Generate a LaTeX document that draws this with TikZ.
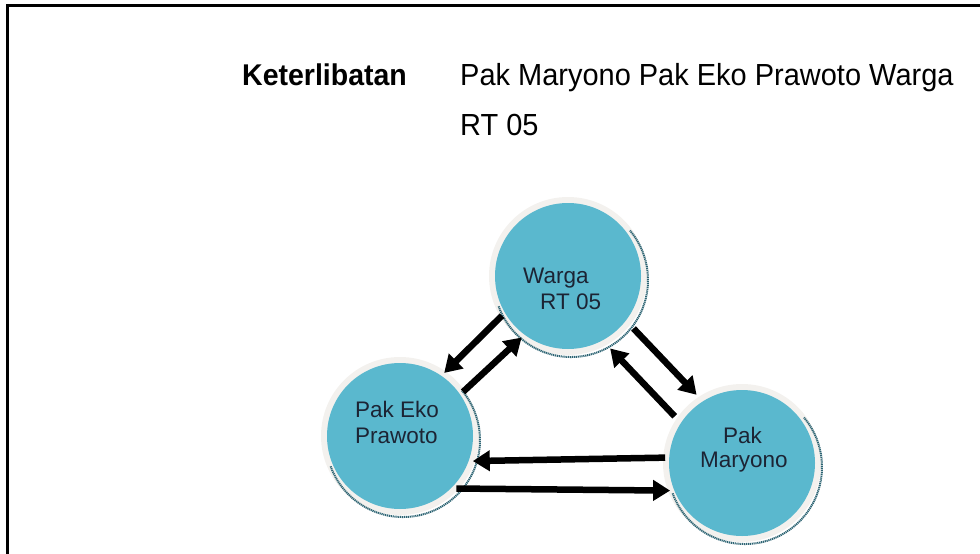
\documentclass[tikz,border=0pt]{standalone}
\usepackage{fontspec}
\setmainfont{Liberation Sans}
\newfontfamily\headfont[FakeStretch=0.95]{Liberation Sans}
\usetikzlibrary{arrows.meta}
\pgfdeclarelayer{bg}
\pgfsetlayers{bg,main}

\definecolor{bubble}{RGB}{90,184,206}
\definecolor{halo}{RGB}{243,241,238}
\definecolor{rim}{RGB}{45,100,115}
\definecolor{ink}{RGB}{28,36,52}

\begin{document}
\begin{tikzpicture}[x=1pt,y=-1pt,
  bubblenode/.style={circle, fill=bubble, minimum size=146pt, inner sep=0pt, outer sep=4pt},
  haloring/.style={fill=halo},
  rimline/.style={draw=rim, line width=2pt, dash pattern=on 1.2pt off 0.7pt},
  flow/.style={line width=6.5pt, -{Triangle[length=17pt,width=20pt]}},
  inside/.style={font=\fontsize{22.5}{27}\selectfont, text=ink, inner sep=0pt, anchor=base west},
  header/.style={font=\headfont\fontsize{30.5}{36}\selectfont, inner sep=0pt, anchor=base west},
]
\useasboundingbox (0,0) rectangle (980,554);

% frame
\draw[line width=2.2pt] (7.5,554) -- (7.5,5.5) -- (980,5.5);

% heading
\node[header, font=\headfont\bfseries\fontsize{30}{36}\selectfont] (kt) at (242,85) {Keterlibatan};
\node[header] (who) at (460,85) {Pak Maryono Pak Eko Prawoto Warga};
\node[header] (who2) at (460,135) {RT 05};

% actors
\node[bubblenode] (warga) at (568,276) {};
\node[bubblenode] (eko) at (400,436) {};
\node[bubblenode] (maryono) at (742,463) {};

\begin{pgfonlayer}{bg}
  \foreach \n in {warga,eko,maryono}{
    \fill[haloring] (\n.center) circle[radius=79pt];
    \draw[rimline] ([shift={(3pt,-4pt)}]\n.center) ++(-160:77pt)
      arc[start angle=-160, end angle=40, radius=77pt];
  }
\end{pgfonlayer}

\node[inside] (wargaA) at (523,283) {Warga};
\node[inside] (wargaB) at (540,309) {RT 05};
\node[inside] (ekoA) at (355,417) {Pak Eko};
\node[inside] (ekoB) at (355,443) {Prawoto};
\node[inside] (maryA) at (723,443) {Pak};
\node[inside] (maryB) at (700,467) {Maryono};

% relations
\draw[flow] (warga.211) -- (eko.55);
\draw[flow] (eko.35) -- (warga.233);
\draw[flow, shorten <=7pt, shorten >=5pt] (warga.322) -- (maryono.123);
\draw[flow, shorten <=5pt, shorten >=7pt] (maryono.146) -- (warga.299);
\draw[flow] (maryono.176) -- (eko.341);
\draw[flow] (eko.317) -- (maryono.201);
\end{tikzpicture}
\end{document}
